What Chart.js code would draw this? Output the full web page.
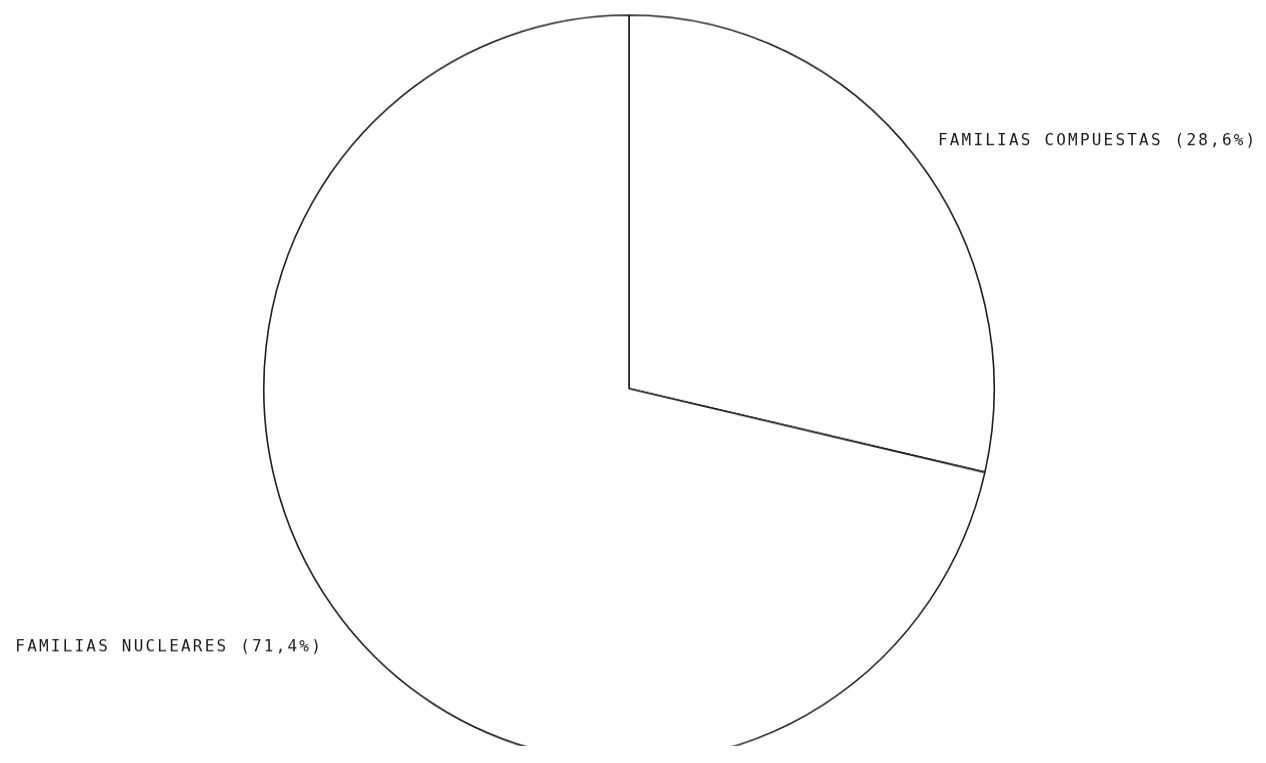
<!DOCTYPE html>
<html>
<head>
<meta charset="utf-8">
<script src="https://cdn.jsdelivr.net/npm/chart.js@4/dist/chart.umd.min.js"></script>
<style>
  html, body { margin: 0; padding: 0; background: #ffffff; overflow: hidden; }
  #wrap { width: 1266px; height: 746px; transform: scaleY(1.0225); transform-origin: 0 0; }
  canvas { display: block; }
</style>
</head>
<body>
<div id="wrap"><canvas id="c" width="1266" height="746"></canvas></div>
<script>
const categories = ["FAMILIAS COMPUESTAS", "FAMILIAS NUCLEARES"];
const percentValues = [28.6, 71.4];
const sliceLabels = ["FAMILIAS COMPUESTAS (28,6%)", "FAMILIAS NUCLEARES (71,4%)"];

const labelPlugin = {
  id: 'sliceLabels',
  afterDraw(chart) {
    const ctx = chart.ctx;
    const meta = chart.getDatasetMeta(0);
    const arc = meta.data[0];
    const cx = arc.x, cy = arc.y, r = arc.outerRadius;
    ctx.save();
    ctx.fillStyle = '#1a1a1a';
    ctx.font = '16px "DejaVu Sans Mono", monospace';
    ctx.letterSpacing = '2.2px';
    ctx.textBaseline = 'middle';
    // compuestas label: upper right, outside the circle
    ctx.textAlign = 'left';
    ctx.fillText(sliceLabels[0], cx + r * 0.846, cy - r * 0.663);
    // nucleares label: lower left, outside the circle
    ctx.textAlign = 'right';
    ctx.fillText(sliceLabels[1], cx - r * 0.838, cy + r * 0.693);
    ctx.restore();
  }
};

new Chart(document.getElementById('c'), {
  type: 'pie',
  data: {
    labels: categories,
    datasets: [{
      data: percentValues,
      backgroundColor: '#ffffff',
      borderColor: '#1e1e1e',
      borderWidth: 1.6,
      borderAlign: 'center',
      hoverOffset: 0
    }]
  },
  options: {
    responsive: false,
    animation: false,
    events: [],
    layout: { padding: { left: 263, right: 271, top: 14, bottom: 0 } },
    plugins: {
      legend: { display: false },
      tooltip: { enabled: false }
    }
  },
  plugins: [labelPlugin]
});
</script>
</body>
</html>
